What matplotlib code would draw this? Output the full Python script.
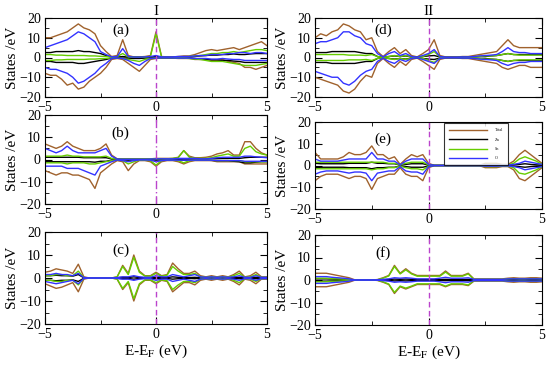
import numpy as np
import matplotlib.pyplot as plt

plt.rcParams['font.family'] = ['Liberation Serif', 'DejaVu Serif']
plt.rcParams['mathtext.fontset'] = 'stix'

# energy grid (eV), step 0.25
energy = np.linspace(-5, 5, 41)

# ---- panel (a) ----
a_tot_up = [10, 10, 11, 12, 13, 15, 17, 15, 14, 12, 6, 3, 0.5, 1, 9, 1, 0.3, 0.3, 0.5, 1, 13, 0.5, 0.3, 0.3, 0.5, 0.8, 0.8, 1.5, 2.5, 3.5, 4, 3.5, 4, 4.5, 5, 4, 5, 6, 7, 8, 6]
a_tot_dn = [-8, -9, -9, -11, -14, -13, -16, -15, -12, -10, -8, -5, -1, -0.5, -1, -3, -5, -7, -4, -1, -0.5, -0.3, -0.3, -0.3, -0.5, -0.5, -0.5, -1, -1, -1, -1.5, -1.5, -1, -2, -2.5, -3, -5, -5, -6, -5, -4]
a_zn_up = [2.5, 2.5, 3, 3, 3, 3, 3.5, 3, 3, 2.5, 2, 1, 0.2, 0.2, 0.5, 0.2, 0.2, 0.2, 0.2, 0.2, 0.5, 0.2, 0.2, 0.2, 0.2, 0.3, 0.3, 0.5, 0.8, 1, 1.2, 1.2, 1.5, 1.5, 1.8, 1.5, 1.5, 1.8, 2, 2, 2]
a_zn_dn = [-2, -2, -2.5, -2.5, -2.5, -2.5, -3, -3, -2.5, -2, -1.5, -1, -0.2, -0.2, -0.3, -0.3, -0.5, -0.5, -0.3, -0.2, -0.2, -0.2, -0.2, -0.2, -0.2, -0.3, -0.3, -0.5, -0.8, -1, -1.2, -1.2, -1.5, -1.5, -1.8, -2, -2.5, -2.5, -2.5, -2.5, -2.5]
a_sn_up = [1.5, 1.5, 1.2, 1.2, 1, 1, 1, 1, 0.8, 0.8, 0.6, 0.5, 0.2, 0.5, 2, 0.3, 0.2, 0.2, 0.3, 0.5, 12, 0.3, 0.2, 0.2, 0.3, 0.3, 0.5, 0.8, 1, 1.5, 2, 2, 2.5, 2.5, 3, 2.5, 3, 3.5, 4, 4, 3.5]
a_sn_dn = [-1.5, -1.5, -1.2, -1.2, -1, -1, -1, -1, -0.8, -0.8, -0.6, -0.5, -0.2, -0.3, -0.5, -1, -1.5, -2, -1, -0.5, -0.3, -0.2, -0.2, -0.2, -0.3, -0.3, -0.5, -0.8, -1, -1.5, -2, -2, -2, -2.5, -3, -3.5, -4, -4, -4, -3.5, -3]
a_o_up = [5, 6, 7, 8, 9, 11, 13, 12, 10, 8, 3, 1.5, 0.3, 0.5, 4.5, 0.5, 0.2, 0.2, 0.3, 0.5, 1, 0.3, 0.3, 0.3, 0.5, 0.5, 0.5, 0.8, 1, 1, 1.5, 1.5, 1.5, 2, 2, 2.5, 2.5, 2, 2.5, 2.5, 2]
a_o_dn = [-5, -6, -6, -7, -8, -10, -13, -12, -10, -8, -5, -3, -0.5, -0.3, -0.5, -1.5, -3, -4, -2, -0.5, -0.3, -0.2, -0.2, -0.2, -0.3, -0.3, -0.3, -0.5, -0.5, -0.5, -0.8, -0.8, -0.5, -0.8, -1, -1, -1.5, -1.5, -1.5, -1.5, -1.5]

# ---- panel (b) ----
b_tot_up = [7, 6, 5, 6, 8, 6, 5, 4, 4, 4, 5, 7, 2, 0.3, 0.2, 0.2, 0.2, 0.2, 0.2, 0.3, 0.5, 0.5, 0.5, 0.5, 1, 4, 1.5, 0.8, 0.8, 1, 1.5, 2.5, 3, 4, 2, 2, 8, 8, 5, 3, 2]
b_tot_dn = [-5, -6, -7, -6, -6, -7, -7, -8, -9, -13, -6, -4, -2, -0.5, -1, -5, -2, -0.5, -0.5, -1, -3, -1, -0.5, -0.5, -1, -2, -1, -0.5, -0.5, -0.5, -0.5, -1, -1, -1, -1, -1, -2, -2, -2, -2, -2]
b_zn_up = [1, 1, 1, 1, 1, 1, 1, 0.8, 0.8, 0.8, 0.8, 0.8, 0.3, 0.1, 0.1, 0.1, 0.1, 0.1, 0.1, 0.1, 0.2, 0.2, 0.2, 0.2, 0.2, 0.3, 0.3, 0.3, 0.3, 0.3, 0.4, 0.4, 0.5, 0.5, 0.5, 0.5, 0.8, 1, 1, 1, 1]
b_zn_dn = [-1, -1, -1, -1, -1, -1, -1, -1, -1, -1.2, -0.8, -0.8, -0.3, -0.1, -0.2, -0.3, -0.2, -0.1, -0.1, -0.1, -0.3, -0.2, -0.2, -0.2, -0.2, -0.3, -0.3, -0.3, -0.3, -0.3, -0.4, -0.5, -0.5, -0.5, -0.8, -1, -1.5, -1.5, -1.2, -1, -1]
b_sn_up = [1.5, 1.5, 1.5, 1.5, 2, 1.5, 1.5, 1.2, 1.2, 1.2, 1.2, 1.5, 0.5, 0.2, 0.2, 0.2, 0.2, 0.2, 0.2, 0.3, 0.3, 0.3, 0.3, 0.5, 0.8, 4, 1, 0.5, 0.5, 0.5, 0.8, 1.5, 2, 2.5, 1.5, 1.5, 5, 6, 3.5, 2.5, 2]
b_sn_dn = [-1.5, -1.5, -1.5, -1.5, -2, -1.5, -1.5, -1.5, -2, -2, -1.5, -1, -0.5, -0.2, -0.5, -2, -1, -0.3, -0.3, -0.5, -2.5, -0.5, -0.3, -0.3, -0.5, -1.5, -0.5, -0.3, -0.3, -0.3, -0.3, -0.5, -0.5, -0.5, -0.5, -0.5, -1, -1, -1, -1, -1]
b_o_up = [5, 4, 3, 4, 6, 4, 3, 3, 3, 3, 4, 5, 1.5, 0.2, 0.1, 0.1, 0.1, 0.1, 0.1, 0.2, 0.3, 0.3, 0.3, 0.3, 0.5, 0.5, 0.5, 0.5, 0.3, 0.3, 0.5, 0.8, 1, 1, 1, 1, 1.5, 1.5, 1.2, 1, 0.8]
b_o_dn = [-3, -3, -3, -3, -4, -4, -4, -5, -6, -7, -3, -2, -1, -0.2, -0.5, -1, -0.5, -0.2, -0.2, -0.3, -1, -0.5, -0.3, -0.3, -0.3, -0.3, -0.3, -0.3, -0.3, -0.3, -0.3, -0.5, -0.5, -0.5, -0.5, -0.5, -0.8, -0.8, -0.8, -0.8, -0.8]

# ---- panel (c) ----
c_tot_up = [2.5, 3, 4, 3.5, 3, 2, 6, 0.5, 0, 0, 0, 0, 0, 0.5, 5.5, 2, 10, 3, 1, 1, 2.5, 1, 1.5, 6.5, 4, 2, 2, 3, 1, 0.5, 1, 0.5, 1, 0.5, 1.5, 3, 0.5, 1, 2.5, 0.5, 0.5]
c_tot_dn = [-2.5, -3.5, -4.5, -4, -3, -2, -6, -0.5, 0, 0, 0, 0, 0, -0.5, -5, -2, -10, -3, -1, -1, -2.5, -1, -1.5, -6, -4, -2, -2, -3, -1, -0.5, -1, -0.5, -1, -0.5, -1.5, -3, -0.5, -1, -2.5, -0.5, -0.5]
c_zn_up = [1, 1, 1.2, 1, 1, 0.8, 1.5, 0.1, 0, 0, 0, 0, 0, 0.1, 0.3, 0.2, 0.5, 0.2, 0.1, 0.1, 0.3, 0.1, 0.2, 0.5, 0.3, 0.2, 0.2, 0.3, 0.1, 0.1, 0.1, 0.1, 0.1, 0.1, 0.2, 0.3, 0.1, 0.1, 0.3, 0.1, 0.1]
c_zn_dn = [-1, -1, -1.2, -1, -1, -0.8, -1.5, -0.1, 0, 0, 0, 0, 0, -0.1, -0.3, -0.2, -0.5, -0.2, -0.1, -0.1, -0.3, -0.1, -0.2, -0.5, -0.3, -0.2, -0.2, -0.3, -0.1, -0.1, -0.1, -0.1, -0.1, -0.1, -0.2, -0.3, -0.1, -0.1, -0.3, -0.1, -0.1]
c_sn_up = [1, 1, 1.5, 1.5, 1, 1, 3, 0.2, 0, 0, 0, 0, 0, 0.5, 5, 1.5, 9, 2.5, 0.8, 0.8, 2, 0.8, 1.2, 5, 3, 1.5, 1.5, 2, 0.5, 0.3, 0.5, 0.3, 0.5, 0.3, 1, 2, 0.3, 0.5, 1.5, 0.3, 0.3]
c_sn_dn = [-1, -1, -1.5, -1.5, -1, -1, -3, -0.2, 0, 0, 0, 0, 0, -0.5, -4.5, -1.5, -9, -2.5, -0.8, -0.8, -2, -0.8, -1.2, -5, -3, -1.5, -1.5, -2, -0.5, -0.3, -0.5, -0.3, -0.5, -0.3, -1, -2, -0.3, -0.5, -1.5, -0.3, -0.3]
c_o_up = [1.5, 1.5, 2, 1.5, 1.5, 1, 2, 0.2, 0, 0, 0, 0, 0, 0.2, 0.5, 0.5, 1, 0.5, 0.3, 0.3, 1, 0.5, 0.5, 1.5, 1, 0.5, 1, 1.5, 0.5, 0.3, 0.5, 0.3, 0.5, 0.3, 0.5, 1, 0.3, 0.3, 1, 0.3, 0.3]
c_o_dn = [-1.5, -2, -2.5, -2, -1.5, -1, -2.5, -0.2, 0, 0, 0, 0, 0, -0.2, -0.5, -0.5, -1, -0.5, -0.3, -0.3, -1, -0.5, -0.5, -1.5, -1, -0.5, -1, -1.5, -0.5, -0.3, -0.5, -0.3, -0.5, -0.3, -0.5, -1, -0.3, -0.3, -1, -0.3, -0.3]

# ---- panel (d) ----
d_tot_up = [10, 12, 11, 13, 14, 17, 16, 14, 13, 9, 10, 3, 0.5, 3, 5, 2, 4, 1, 0.3, 2, 4, 9, 1, 0.3, 0.3, 0.3, 0.5, 0.5, 1, 1.5, 2, 2.5, 3, 6, 9, 6, 5, 5, 5, 5, 5]
d_tot_dn = [-10, -11, -12, -13, -14, -17, -18, -16, -12, -9, -10, -3, -0.5, -3, -5, -2, -4, -1, -0.3, -2, -4, -6, -1, -0.3, -0.3, -0.3, -0.5, -0.5, -1, -1.5, -2, -2.5, -3, -5, -6, -5, -4, -4, -5, -5, -5]
d_zn_up = [2.5, 2.5, 2.5, 3, 3, 3, 3, 3, 2.5, 2, 2, 0.5, 0.1, 0.5, 0.8, 0.5, 0.8, 0.3, 0.1, 0.5, 0.8, 1, 0.3, 0.1, 0.1, 0.1, 0.2, 0.2, 0.3, 0.5, 0.5, 0.8, 1, 1.5, 2, 1.5, 1.5, 1.5, 1.5, 1.5, 1.5]
d_zn_dn = [-2.5, -2.5, -2.5, -3, -3, -3, -3, -3, -2.5, -2, -2, -0.5, -0.1, -0.5, -0.8, -0.5, -0.8, -0.3, -0.1, -0.5, -0.8, -1, -0.3, -0.1, -0.1, -0.1, -0.2, -0.2, -0.3, -0.5, -0.5, -0.8, -1, -1.5, -2, -1.5, -1.5, -1.5, -1.5, -1.5, -1.5]
d_sn_up = [1.5, 1.5, 1.5, 1.5, 1.5, 1.5, 1.2, 1.2, 1.2, 1, 1.5, 0.5, 0.1, 0.5, 1, 0.5, 1, 0.3, 0.1, 0.5, 1.5, 3, 0.3, 0.1, 0.1, 0.1, 0.2, 0.2, 0.3, 0.5, 0.8, 0.8, 1, 1.5, 2, 1.5, 1.2, 1.2, 1.2, 1.2, 1.2]
d_sn_dn = [-1.5, -1.5, -1.5, -1.5, -1.5, -1.5, -1.2, -1.2, -1.2, -1, -1.5, -0.5, -0.1, -0.5, -1, -0.5, -1, -0.3, -0.1, -0.5, -1.5, -2.5, -0.3, -0.1, -0.1, -0.1, -0.2, -0.2, -0.3, -0.5, -0.8, -0.8, -1, -1.5, -2, -1.5, -1.2, -1.2, -1.2, -1.2, -1.2]
d_o_up = [7, 8, 8, 9, 10, 13, 13, 11, 10, 7, 6, 2, 0.3, 2, 3, 1, 2, 0.5, 0.2, 1, 2, 4, 0.5, 0.2, 0.2, 0.2, 0.3, 0.3, 0.5, 0.8, 1, 1.2, 1.5, 3, 5, 3, 2.5, 2.5, 2, 2, 2]
d_o_dn = [-7, -8, -9, -10, -10, -13, -14, -12, -9, -7, -6, -2, -0.3, -2, -3, -1, -2, -0.5, -0.2, -1, -2, -3, -0.5, -0.2, -0.2, -0.2, -0.3, -0.3, -0.5, -0.8, -1, -1.2, -1.5, -3, -4, -3, -2.5, -2.5, -2, -2, -2]

# ---- panel (e) ----
e_tot_up = [6, 3, 3, 3, 3, 4, 6, 5, 5, 6, 9, 5, 5, 3, 4, 0.5, 3, 5, 4, 5, 1, 0.1, 0.1, 0.1, 0.1, 0.1, 0.1, 0.1, 0.1, 0.1, 1, 1, 1, 0.5, 0.5, 2, 5, 7, 5, 3, 1]
e_tot_dn = [-7, -5, -4, -4, -4, -5, -6, -5, -5, -6, -11, -6, -5, -4, -4, -1, -4, -5, -5, -7, -1, -0.1, -0.1, -0.1, -0.1, -0.1, -0.1, -0.1, -0.1, -0.1, -1, -1, -1, -0.5, -0.5, -2, -6, -7, -5, -3, -1]
e_zn_up = [1, 0.8, 0.8, 0.8, 0.8, 0.8, 1, 1, 1, 1, 1.5, 1, 1, 0.8, 0.8, 0.2, 0.5, 0.8, 0.8, 0.8, 0.2, 0.05, 0.05, 0.05, 0.05, 0.05, 0.05, 0.05, 0.05, 0.05, 0.2, 0.2, 0.2, 0.1, 0.1, 0.3, 0.5, 0.8, 0.5, 0.3, 0.2]
e_zn_dn = [-1, -0.8, -0.8, -0.8, -0.8, -0.8, -1, -1, -1, -1, -1.5, -1, -1, -0.8, -0.8, -0.2, -0.5, -0.8, -0.8, -0.8, -0.2, -0.05, -0.05, -0.05, -0.05, -0.05, -0.05, -0.05, -0.05, -0.05, -0.2, -0.2, -0.2, -0.1, -0.1, -0.3, -0.5, -0.8, -0.5, -0.3, -0.2]
e_sn_up = [1.5, 1.5, 1.5, 1.5, 1.5, 1.5, 1.5, 1.5, 1.5, 1.5, 1.5, 1.5, 1.5, 1, 1, 0.3, 1, 1.5, 1.5, 1.5, 0.3, 0.05, 0.05, 0.05, 0.05, 0.05, 0.05, 0.05, 0.05, 0.05, 0.5, 0.5, 0.5, 0.3, 0.3, 1, 3, 4, 3, 2, 0.5]
e_sn_dn = [-1.5, -1.5, -1.5, -1.5, -1.5, -1.5, -1.5, -1.5, -1.5, -1.5, -2, -1.5, -1.5, -1, -1, -0.3, -1, -1.5, -1.5, -2, -0.3, -0.05, -0.05, -0.05, -0.05, -0.05, -0.05, -0.05, -0.05, -0.05, -0.5, -0.5, -0.5, -0.3, -0.3, -1, -3.5, -4, -3, -2, -0.5]
e_o_up = [3, 2, 2, 2, 2, 2.5, 3, 3, 3, 3, 6, 3, 3, 2, 2, 0.3, 2, 3, 3, 3, 0.5, 0.1, 0.1, 0.1, 0.1, 0.1, 0.1, 0.1, 0.1, 0.1, 0.3, 0.3, 0.3, 0.2, 0.2, 0.5, 1, 2, 1.5, 1, 0.5]
e_o_dn = [-4, -3, -2.5, -2.5, -2.5, -3, -3.5, -3, -3, -3.5, -7, -3.5, -3, -2.5, -2.5, -0.5, -2.5, -3, -3, -4, -0.5, -0.1, -0.1, -0.1, -0.1, -0.1, -0.1, -0.1, -0.1, -0.1, -0.3, -0.3, -0.3, -0.2, -0.2, -0.5, -1, -2, -1.5, -1, -0.5]

# ---- panel (f) ----
f_tot_up = [3, 3, 3, 2.5, 2, 1.5, 1, 0.1, 0, 0, 0, 0.2, 1, 2, 6.5, 3, 5, 3, 2, 2, 2, 2, 2, 4, 2, 2, 2, 3, 0.5, 0.5, 0.5, 0.5, 0.5, 0.5, 0.8, 1, 0.8, 0.8, 1, 1, 0.8]
f_tot_dn = [-3, -3, -3, -2.5, -2, -1.5, -1, -0.1, 0, 0, 0, -0.2, -1, -2, -6, -3, -4, -3, -2, -2, -2, -2, -2, -3, -2, -2, -2, -2.5, -0.5, -0.5, -0.5, -0.5, -0.5, -0.5, -0.8, -1, -0.8, -0.8, -1, -1, -0.8]
f_zn_up = [0.5, 0.5, 0.5, 0.4, 0.3, 0.2, 0.2, 0, 0, 0, 0, 0, 0.1, 0.2, 0.4, 0.3, 0.4, 0.3, 0.2, 0.2, 0.2, 0.2, 0.2, 0.3, 0.2, 0.2, 0.2, 0.3, 0.1, 0.1, 0.1, 0.1, 0.1, 0.1, 0.1, 0.2, 0.1, 0.1, 0.2, 0.2, 0.1]
f_zn_dn = [-0.5, -0.5, -0.5, -0.4, -0.3, -0.2, -0.2, 0, 0, 0, 0, 0, -0.1, -0.2, -0.4, -0.3, -0.4, -0.3, -0.2, -0.2, -0.2, -0.2, -0.2, -0.3, -0.2, -0.2, -0.2, -0.3, -0.1, -0.1, -0.1, -0.1, -0.1, -0.1, -0.1, -0.2, -0.1, -0.1, -0.2, -0.2, -0.1]
f_sn_up = [0.8, 0.8, 0.8, 0.6, 0.5, 0.4, 0.3, 0, 0, 0, 0, 0.1, 0.8, 1.8, 6, 2.7, 4.5, 2.7, 1.7, 1.7, 1.7, 1.7, 1.7, 3.5, 1.7, 1.7, 1.7, 2.7, 0.3, 0.3, 0.3, 0.3, 0.3, 0.3, 0.5, 0.6, 0.5, 0.5, 0.6, 0.6, 0.5]
f_sn_dn = [-0.8, -0.8, -0.8, -0.6, -0.5, -0.4, -0.3, 0, 0, 0, 0, -0.1, -0.8, -1.8, -5.5, -2.7, -3.6, -2.7, -1.7, -1.7, -1.7, -1.7, -1.7, -2.7, -1.7, -1.7, -1.7, -2.2, -0.3, -0.3, -0.3, -0.3, -0.3, -0.3, -0.5, -0.6, -0.5, -0.5, -0.6, -0.6, -0.5]
f_o_up = [1.5, 1.5, 1.5, 1.2, 1, 0.8, 0.5, 0, 0, 0, 0, 0.1, 0.3, 0.5, 1, 0.8, 1, 0.8, 0.5, 0.5, 0.5, 0.5, 0.8, 1.2, 0.8, 0.8, 0.8, 1, 0.3, 0.3, 0.3, 0.3, 0.3, 0.3, 0.5, 0.5, 0.5, 0.5, 0.5, 0.5, 0.5]
f_o_dn = [-1.5, -1.5, -1.5, -1.2, -1, -0.8, -0.5, 0, 0, 0, 0, -0.1, -0.3, -0.5, -1, -0.8, -1, -0.8, -0.5, -0.5, -0.5, -0.5, -0.8, -1.2, -0.8, -0.8, -0.8, -1, -0.3, -0.3, -0.3, -0.3, -0.3, -0.3, -0.5, -0.5, -0.5, -0.5, -0.5, -0.5, -0.5]

species = ['Total', 'Zn', 'Sn', 'O']
colors = ['#a0622d', 'black', '#66cc00', '#3333ff']

panels = {
    'a': [(a_tot_up, a_tot_dn), (a_zn_up, a_zn_dn), (a_sn_up, a_sn_dn), (a_o_up, a_o_dn)],
    'b': [(b_tot_up, b_tot_dn), (b_zn_up, b_zn_dn), (b_sn_up, b_sn_dn), (b_o_up, b_o_dn)],
    'c': [(c_tot_up, c_tot_dn), (c_zn_up, c_zn_dn), (c_sn_up, c_sn_dn), (c_o_up, c_o_dn)],
    'd': [(d_tot_up, d_tot_dn), (d_zn_up, d_zn_dn), (d_sn_up, d_sn_dn), (d_o_up, d_o_dn)],
    'e': [(e_tot_up, e_tot_dn), (e_zn_up, e_zn_dn), (e_sn_up, e_sn_dn), (e_o_up, e_o_dn)],
    'f': [(f_tot_up, f_tot_dn), (f_zn_up, f_zn_dn), (f_sn_up, f_sn_dn), (f_o_up, f_o_dn)],
}

# axes boxes in pixels: left, top, right, bottom
boxes = {
    'a': (45, 18, 267, 97), 'b': (45, 115, 267, 204), 'c': (45, 232, 267, 324),
    'd': (315, 18, 542, 97), 'e': (315, 122, 542, 209), 'f': (315, 235, 542, 325),
}
W, H = 550, 365

fig = plt.figure(figsize=(W / 100, H / 100), dpi=100)
axes = {}
for key, (l, t, r, b) in boxes.items():
    ax = fig.add_axes([l / W, 1 - b / H, (r - l) / W, (b - t) / H])
    axes[key] = ax
    for (up, dn), col, name in zip(panels[key], colors, species):
        ax.plot(energy, up, color=col, lw=1.0, label=name)
        ax.plot(energy, dn, color=col, lw=1.0)
    ls = (0, (6, 2, 1, 2)) if key == 'b' else (0, (4, 2.5))
    ax.axvline(0, color='#bb44cc', lw=1.0, ls=ls)
    ax.set_xlim(-5, 5)
    ax.set_ylim(-20, 20)
    ax.set_xticks([-5, 0, 5])
    ax.set_xticks([-2.5, 2.5], minor=True)
    ax.set_yticks([-20, -10, 0, 10, 20])
    ax.set_yticks([-15, -5, 5, 15], minor=True)
    ax.tick_params(which='both', direction='in', top=True, right=True, labelsize=10)
    ax.tick_params(axis='x', pad=3)
    ax.tick_params(axis='y', pad=3)
    ax.tick_params(which='major', length=5)
    ax.tick_params(which='minor', length=3)
    ax.set_ylabel('States /eV', fontsize=11, labelpad=0)
    lx = -1.6 if key in 'abc' else -2.0
    ly = 14 if key in 'ad' else 12
    ax.text(lx, ly, '(%s)' % key, fontsize=11, ha='center', va='center')

axes['a'].set_title('I', fontsize=11, pad=1)
axes['d'].set_title('II', fontsize=11, pad=1)
axes['c'].set_xlabel('E-E$_\\mathrm{F}$ (eV)', fontsize=11, labelpad=1)
axes['f'].set_xlabel('E-E$_\\mathrm{F}$ (eV)', fontsize=11, labelpad=1)

leg = axes['e'].legend(loc='upper left', bbox_to_anchor=(0.56, 1.01), fontsize=3,
                       handlelength=9, frameon=True, fancybox=False, edgecolor='black',
                       borderpad=1.2, labelspacing=1.3, handletextpad=2)
leg.get_frame().set_linewidth(0.8)

fig.savefig('out.png', dpi=100)
